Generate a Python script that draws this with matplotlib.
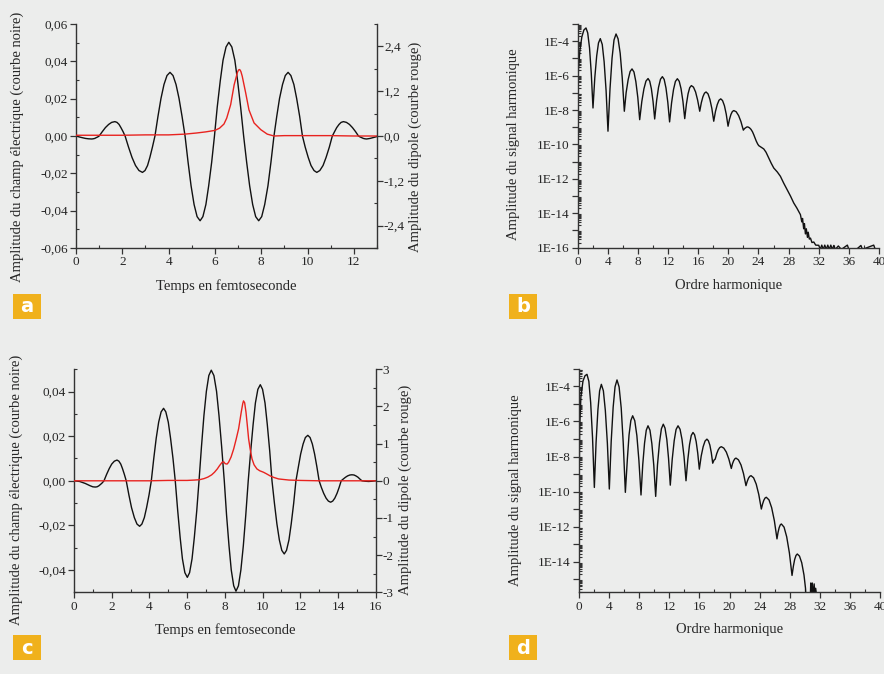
import numpy as np
import matplotlib
matplotlib.use("Agg")
import matplotlib.pyplot as plt
from matplotlib.ticker import FixedLocator, MultipleLocator, FuncFormatter, LogLocator, NullFormatter
from matplotlib.patches import Rectangle

# ---- panel a : field (black, left axis) and dipole (red, right axis) vs time ----
t_a = [0.00, 0.14, 0.27, 0.41, 0.54, 0.68, 0.74, 0.81, 0.87, 0.94,
       1.00, 1.14, 1.27, 1.41, 1.54, 1.68, 1.77, 1.86, 1.94, 2.03,
       2.12, 2.27, 2.42, 2.57, 2.72, 2.87, 2.98, 3.09, 3.19, 3.30,
       3.41, 3.54, 3.67, 3.80, 3.93, 4.06, 4.19, 4.32, 4.45, 4.58,
       4.71, 4.84, 4.97, 5.10, 5.23, 5.36, 5.48, 5.61, 5.73, 5.86,
       5.98, 6.10, 6.23, 6.35, 6.48, 6.60, 6.73, 6.86, 6.98, 7.11,
       7.24, 7.37, 7.50, 7.63, 7.76, 7.89, 8.02, 8.15, 8.29, 8.42,
       8.55, 8.67, 8.79, 8.92, 9.04, 9.16, 9.28, 9.41, 9.53, 9.66,
       9.78, 9.90, 10.03, 10.15, 10.28, 10.40, 10.53, 10.67, 10.80, 10.94,
       11.07, 11.17, 11.26, 11.36, 11.45, 11.55, 11.68, 11.81, 11.94, 12.07,
       12.20, 12.27, 12.34, 12.41, 12.48, 12.55, 12.70, 12.85, 13.00]
field_a = [0.0000, -0.0005, -0.0009, -0.0013, -0.0015, -0.0016, -0.0015, -0.0013, -0.0009, -0.0005,
           0.0000, 0.0024, 0.0045, 0.0062, 0.0073, 0.0077, 0.0073, 0.0062, 0.0045, 0.0024,
           0.0000, -0.0060, -0.0115, -0.0158, -0.0185, -0.0195, -0.0185, -0.0158, -0.0115, -0.0060,
           0.0000, 0.0105, 0.0201, 0.0276, 0.0324, 0.0341, 0.0324, 0.0276, 0.0201, 0.0105,
           0.0000, -0.0140, -0.0267, -0.0367, -0.0432, -0.0454, -0.0432, -0.0367, -0.0267, -0.0140,
           0.0000, 0.0155, 0.0295, 0.0406, 0.0477, 0.0502, 0.0477, 0.0406, 0.0295, 0.0155,
           0.0000, -0.0140, -0.0267, -0.0367, -0.0432, -0.0454, -0.0432, -0.0367, -0.0267, -0.0140,
           0.0000, 0.0105, 0.0201, 0.0276, 0.0324, 0.0341, 0.0324, 0.0276, 0.0201, 0.0105,
           0.0000, -0.0060, -0.0115, -0.0158, -0.0185, -0.0195, -0.0185, -0.0158, -0.0115, -0.0060,
           0.0000, 0.0024, 0.0045, 0.0062, 0.0073, 0.0077, 0.0073, 0.0062, 0.0045, 0.0024,
           0.0000, -0.0005, -0.0009, -0.0013, -0.0015, -0.0016, -0.0013, -0.0008, -0.0003]
td_a = [0.0, 1.0, 2.0, 3.0, 4.0, 4.7, 5.2, 5.6, 6.0, 6.2, 6.39, 6.51, 6.68, 6.83, 6.97, 7.02, 7.07,
        7.12, 7.18, 7.33, 7.47, 7.69, 7.98, 8.26, 8.55, 9.0, 10.0, 11.0, 12.0, 13.0]
dipole_a = [0.02, 0.02, 0.02, 0.03, 0.03, 0.05, 0.08, 0.11, 0.15, 0.21, 0.32, 0.48, 0.84, 1.37, 1.70, 1.77, 1.78,
            1.73, 1.60, 1.15, 0.70, 0.35, 0.17, 0.05, 0.0, 0.01, 0.01, 0.01, 0.0, 0.0]

# ---- panel c : field (black, left axis) and dipole (red, right axis) vs time ----
t_c = [0.00, 0.30, 0.60, 0.85, 1.00, 1.13, 1.22, 1.31, 1.41, 1.50,
       1.59, 1.73, 1.87, 2.00, 2.14, 2.28, 2.38, 2.48, 2.57, 2.67,
       2.77, 2.91, 3.05, 3.20, 3.34, 3.48, 3.60, 3.73, 3.85, 3.98,
       4.10, 4.23, 4.36, 4.49, 4.62, 4.75, 4.87, 5.00, 5.12, 5.25,
       5.37, 5.50, 5.63, 5.75, 5.88, 6.01, 6.13, 6.26, 6.38, 6.51,
       6.63, 6.76, 6.89, 7.02, 7.15, 7.28, 7.42, 7.56, 7.69, 7.83,
       7.97, 8.09, 8.22, 8.34, 8.47, 8.59, 8.72, 8.85, 8.98, 9.11,
       9.24, 9.37, 9.50, 9.62, 9.75, 9.88, 10.00, 10.13, 10.25, 10.38,
       10.50, 10.63, 10.76, 10.89, 11.02, 11.15, 11.27, 11.40, 11.52, 11.65,
       11.77, 11.90, 12.02, 12.15, 12.27, 12.40, 12.52, 12.64, 12.76, 12.88,
       13.00, 13.12, 13.24, 13.37, 13.49, 13.61, 13.72, 13.83, 13.95, 14.06,
       14.17, 14.28, 14.40, 14.51, 14.63, 14.74, 14.85, 14.95, 15.06, 15.16,
       15.27, 15.45, 15.62, 15.80, 16.00]
field_c = [0.0000, -0.0003, -0.0012, -0.0022, -0.0027, -0.0028, -0.0027, -0.0023, -0.0016, -0.0009,
           0.0000, 0.0029, 0.0055, 0.0075, 0.0088, 0.0093, 0.0088, 0.0075, 0.0055, 0.0029,
           0.0000, -0.0063, -0.0120, -0.0165, -0.0194, -0.0204, -0.0194, -0.0165, -0.0120, -0.0063,
           0.0000, 0.0100, 0.0191, 0.0263, 0.0309, 0.0325, 0.0309, 0.0263, 0.0191, 0.0100,
           0.0000, -0.0134, -0.0255, -0.0350, -0.0412, -0.0433, -0.0412, -0.0350, -0.0255, -0.0134,
           0.0000, 0.0153, 0.0292, 0.0401, 0.0472, 0.0496, 0.0472, 0.0401, 0.0292, 0.0153,
           0.0000, -0.0153, -0.0291, -0.0400, -0.0471, -0.0495, -0.0471, -0.0400, -0.0291, -0.0153,
           0.0000, 0.0133, 0.0253, 0.0349, 0.0410, 0.0431, 0.0410, 0.0349, 0.0253, 0.0133,
           0.0000, -0.0101, -0.0193, -0.0265, -0.0312, -0.0328, -0.0312, -0.0265, -0.0193, -0.0101,
           0.0000, 0.0063, 0.0120, 0.0165, 0.0194, 0.0204, 0.0194, 0.0165, 0.0120, 0.0063,
           0.0000, -0.0030, -0.0056, -0.0078, -0.0091, -0.0096, -0.0091, -0.0078, -0.0056, -0.0030,
           0.0000, 0.0008, 0.0016, 0.0022, 0.0026, 0.0027, 0.0026, 0.0022, 0.0016, 0.0008,
           0.0000, -0.0002, -0.0003, -0.0002, 0.0000]
td_c = [0.0, 2.0, 4.0, 5.0, 6.0, 6.4, 6.66, 6.9, 7.1, 7.3, 7.45, 7.6, 7.72, 7.86, 7.94, 8.02,
        8.12, 8.2, 8.33, 8.47, 8.6, 8.73, 8.87, 8.95, 8.99, 9.05, 9.12, 9.19, 9.26, 9.35, 9.44,
        9.55, 9.70, 9.85, 10.05, 10.2, 10.41, 10.6, 10.85, 11.4, 12.0, 13.0, 14.0, 15.0, 16.0]
dipole_c = [0.0, 0.0, 0.0, 0.01, 0.01, 0.02, 0.03, 0.06, 0.10, 0.16, 0.23, 0.32, 0.41, 0.50, 0.51, 0.46,
            0.45, 0.50, 0.64, 0.86, 1.12, 1.40, 1.85, 2.08, 2.15, 2.10, 1.85, 1.50, 1.13, 0.83, 0.59,
            0.43, 0.32, 0.27, 0.23, 0.19, 0.13, 0.09, 0.05, 0.02, 0.01, 0.0, 0.0, 0.0, 0.0]

# ---- panel b : harmonic spectrum, amplitude read as log10 (decades) ----
order_b = [0.00, 0.10, 0.30, 0.55, 0.82, 1.10, 1.33, 1.57, 1.80, 2.03,
           2.27, 2.52, 2.76, 3.00, 3.26, 3.51, 3.77, 4.02,
           4.29, 4.56, 4.82, 5.09, 5.36, 5.64, 5.91, 6.19,
           6.43, 6.70, 6.96, 7.21, 7.47, 7.72, 7.98, 8.23,
           8.51, 8.79, 9.06, 9.34, 9.56, 9.78, 10.00, 10.22,
           10.48, 10.73, 10.99, 11.24, 11.48, 11.72, 11.96, 12.20,
           12.46, 12.72, 12.97, 13.23, 13.48, 13.72, 13.97, 14.21,
           14.43, 14.65, 14.87, 15.09, 15.37, 15.65, 15.92, 16.20,
           16.41, 16.62, 16.83, 17.04, 17.30, 17.55, 17.81, 18.06,
           18.29, 18.53, 18.76, 18.99, 19.23, 19.48, 19.72, 19.96,
           20.15, 20.34, 20.53, 20.72, 21.04, 21.36, 21.67, 21.99,
           22.14, 22.29, 22.43, 22.58, 22.80, 23.00, 23.20, 23.37, 23.55, 23.70, 23.90, 24.04,
           24.40, 24.70, 25.00, 25.36, 25.70, 26.03, 26.50, 26.91, 27.35, 27.80, 28.25, 28.68, 29.10, 29.57,
           29.75, 29.85, 30.00, 30.10, 30.23, 30.35, 30.50, 30.60, 30.75, 30.90, 31.10, 31.34, 31.60, 32.00,
           32.20, 32.40, 32.60, 32.80, 33.00, 33.20, 33.40, 33.60, 33.80, 34.00, 34.20, 34.60, 35.00, 35.80,
           36.00, 37.00, 37.60, 37.80, 39.30, 39.50, 40.00]
logamp_b = [-7.20, -5.60, -4.50, -3.75, -3.35, -3.23, -3.52, -4.39, -5.85, -7.88,
            -6.12, -4.86, -4.10, -3.85, -4.19, -5.20, -6.88, -9.23,
            -6.76, -4.99, -3.93, -3.58, -3.86, -4.70, -6.11, -8.07,
            -6.99, -6.23, -5.76, -5.61, -5.79, -6.35, -7.27, -8.56,
            -7.51, -6.77, -6.32, -6.17, -6.32, -6.76, -7.49, -8.52,
            -7.44, -6.68, -6.21, -6.06, -6.22, -6.72, -7.54, -8.69,
            -7.59, -6.81, -6.34, -6.18, -6.33, -6.76, -7.49, -8.50,
            -7.66, -7.06, -6.70, -6.58, -6.67, -6.95, -7.42, -8.07,
            -7.58, -7.23, -7.02, -6.95, -7.06, -7.38, -7.91, -8.65,
            -8.08, -7.68, -7.43, -7.35, -7.45, -7.75, -8.24, -8.94,
            -8.54, -8.26, -8.09, -8.03, -8.10, -8.32, -8.67, -9.17,
            -9.08, -9.03, -8.99, -8.98, -9.03, -9.12, -9.26, -9.43, -9.63, -9.80, -9.98, -10.07,
            -10.17, -10.26, -10.45, -10.78, -11.10, -11.37, -11.60, -11.85, -12.25, -12.63, -13.00, -13.40, -13.70, -14.08,
            -14.50, -14.30, -14.90, -14.60, -15.20, -14.90, -15.40, -15.10, -15.50, -15.44, -15.70, -15.67, -15.85, -15.86,
            -16.10, -15.85, -16.10, -15.85, -16.10, -15.85, -16.10, -15.85, -16.10, -15.87, -16.10, -15.90, -16.10, -15.85,
            -16.10, -16.10, -15.87, -16.10, -15.85, -16.10, -16.10]

# ---- panel d : harmonic spectrum, amplitude read as log10 (decades) ----
order_d = [0.00, 0.08, 0.25, 0.53, 0.80, 1.06, 1.31, 1.55, 1.80, 2.04,
           2.27, 2.51, 2.74, 2.97, 3.24, 3.50, 3.77, 4.03,
           4.28, 4.54, 4.79, 5.05, 5.33, 5.61, 5.88, 6.16,
           6.43, 6.65, 6.89, 7.13, 7.41, 7.69, 7.96, 8.24,
           8.47, 8.71, 8.94, 9.17, 9.43, 9.68, 9.94, 10.19,
           10.43, 10.70, 10.95, 11.20, 11.43, 11.67, 11.90, 12.13,
           12.39, 12.65, 12.90, 13.16, 13.43, 13.69, 13.96, 14.22,
           14.46, 14.69, 14.92, 15.15, 15.36, 15.57, 15.78, 15.99,
           16.24, 16.50, 16.75, 17.00, 17.19, 17.39, 17.58, 17.77,
           17.95, 18.10, 18.30, 18.50, 18.70, 18.91, 19.24, 19.58, 19.91, 20.24,
           20.39, 20.55, 20.71, 20.86, 21.19, 21.53, 21.86, 22.19,
           22.36, 22.53, 22.69, 22.86, 23.20, 23.55, 23.89, 24.23,
           24.40, 24.56, 24.73, 24.89, 25.25, 25.60, 25.96, 26.31,
           26.45, 26.60, 26.75, 26.89, 27.25, 27.60, 27.96, 28.31,
           28.49, 28.66, 28.84, 29.01, 29.30, 29.60, 29.90, 30.10, 30.20,
           30.70, 30.80, 30.90, 31.00, 31.10, 31.25, 31.35, 31.45, 31.60, 32.00, 40.00]
logamp_d = [-11.30, -6.50, -4.60, -3.70, -3.40, -3.32, -3.72, -4.93, -6.94, -9.76,
            -7.19, -5.36, -4.26, -3.89, -4.26, -5.38, -7.24, -9.85,
            -7.13, -5.19, -4.03, -3.64, -4.04, -5.24, -7.24, -10.04,
            -8.13, -6.77, -5.95, -5.68, -5.96, -6.81, -8.22, -10.19,
            -8.47, -7.24, -6.50, -6.25, -6.50, -7.26, -8.51, -10.27,
            -8.47, -7.19, -6.42, -6.16, -6.38, -7.03, -8.11, -9.63,
            -8.15, -7.10, -6.46, -6.25, -6.45, -7.03, -8.01, -9.38,
            -8.18, -7.32, -6.80, -6.63, -6.76, -7.15, -7.81, -8.72,
            -7.97, -7.44, -7.12, -7.01, -7.10, -7.35, -7.78, -8.38,
            -8.20, -8.15, -7.84, -7.62, -7.49, -7.44, -7.52, -7.75, -8.14, -8.68,
            -8.42, -8.24, -8.13, -8.09, -8.19, -8.48, -8.97, -9.66,
            -9.41, -9.23, -9.13, -9.09, -9.21, -9.57, -10.16, -10.99,
            -10.70, -10.49, -10.36, -10.32, -10.47, -10.91, -11.65, -12.69,
            -12.32, -12.05, -11.89, -11.84, -12.02, -12.57, -13.49, -14.77,
            -14.24, -13.86, -13.63, -13.55, -13.67, -14.05, -14.75, -15.50, -16.50,
            -16.50, -15.20, -16.00, -15.20, -16.00, -15.25, -16.00, -15.50, -16.00, -16.50, -16.50]

BG = "#ecedec"
TXT = "#262626"
RED = "#e8231f"
ORANGE = "#f0b11c"

plt.rcParams["font.family"] = ["Liberation Serif", "DejaVu Serif"]
plt.rcParams["axes.unicode_minus"] = False

fig = plt.figure(figsize=(8.84, 6.74), dpi=100, facecolor=BG)
W, H = 884.0, 674.0


def box(l, r, t, b):
    return [l / W, 1 - b / H, (r - l) / W, (b - t) / H]


def comma(fmt):
    def f(v, pos):
        if abs(v) < 1e-12:
            v = 0.0
        return format(v, fmt).replace(".", ",")
    return FuncFormatter(f)


def style(ax, sides, pad=2):
    ax.set_facecolor("none")
    for s in ["left", "right", "top", "bottom"]:
        ax.spines[s].set_visible(s in sides)
        ax.spines[s].set_color("#333333")
        ax.spines[s].set_linewidth(1.0)
    ax.tick_params(which="major", direction="out", length=4, width=0.9, colors="#333333",
                   labelcolor=TXT, labelsize=9.5, pad=pad)
    ax.tick_params(which="minor", direction="in", length=2.5, width=0.8, colors="#333333")


# lab = (xlabel top y, left ylabel right-edge x, right ylabel left-edge x, ylabel centre y), axes coords
def time_panel(rect, t, field, td, dip, xmax, ylim, ymaj, yfmt, rmaj, rmin, rfmt, lab):
    ax = fig.add_axes(rect)
    style(ax, ["left", "bottom"])
    ax.plot(t, field, color="#111111", lw=1.0)
    ax.set_xlim(0, xmax)
    ax.set_ylim(*ylim)
    ax.xaxis.set_major_locator(MultipleLocator(2))
    ax.xaxis.set_minor_locator(MultipleLocator(1))
    ax.yaxis.set_major_locator(FixedLocator(ymaj))
    ax.yaxis.set_minor_locator(MultipleLocator(0.01))
    ax.yaxis.set_major_formatter(comma(yfmt))
    ax.set_xlabel("Temps en femtoseconde", fontsize=10.5, color=TXT)
    ax.set_ylabel("Amplitude du champ électrique (courbe noire)", fontsize=10.5, color=TXT)
    ax.xaxis.set_label_coords(0.5, lab[0])
    ax.yaxis.set_label_coords(lab[1], lab[3])
    ax2 = ax.twinx()
    style(ax2, ["right"], pad=1)
    ax2.plot(td, dip, color=RED, lw=1.0)
    ax2.set_ylim(-3, 3)
    ax2.yaxis.set_major_locator(FixedLocator(rmaj))
    ax2.yaxis.set_minor_locator(MultipleLocator(rmin))
    ax2.yaxis.set_major_formatter(comma(rfmt))
    ax2.set_ylabel("Amplitude du dipole (courbe rouge)", fontsize=10.5, color=TXT)
    ax2.yaxis.set_label_coords(lab[2], lab[3])
    return ax


def spectrum_panel(rect, order, logamp, ylim, lab):
    ax = fig.add_axes(rect)
    style(ax, ["left", "bottom"])
    ax.plot(order, np.power(10.0, logamp), color="#111111", lw=1.0)
    ax.set_yscale("log")
    ax.set_xlim(0, 40)
    ax.set_ylim(*ylim)
    ax.xaxis.set_major_locator(MultipleLocator(4))
    ax.xaxis.set_minor_locator(MultipleLocator(2))
    ax.yaxis.set_major_locator(LogLocator(base=10, numticks=40))
    ax.yaxis.set_minor_locator(LogLocator(base=10, subs=np.arange(2, 10), numticks=200))
    ax.yaxis.set_minor_formatter(NullFormatter())

    def dec(v, pos):
        e = int(round(np.log10(v)))
        return "1E%d" % e if e % 2 == 0 else ""
    ax.yaxis.set_major_formatter(FuncFormatter(dec))
    ax.set_xlabel("Ordre harmonique", fontsize=10.5, color=TXT)
    ax.set_ylabel("Amplitude du signal harmonique", fontsize=10.5, color=TXT)
    ax.xaxis.set_label_coords(0.5, lab[0])
    ax.yaxis.set_label_coords(lab[1], lab[2])
    return ax


time_panel(box(76, 377, 24, 248), t_a, field_a, td_a, dipole_a, 13, (-0.06, 0.06),
           [-0.06, -0.04, -0.02, 0.0, 0.02, 0.04, 0.06], ".2f",
           [-2.4, -1.2, 0.0, 1.2, 2.4], 0.6, ".1f", (-0.138, -0.173, 1.106, 0.451))
time_panel(box(74, 375.7, 369.3, 592.3), t_c, field_c, td_c, dipole_c, 16, (-0.05, 0.05),
           [-0.04, -0.02, 0.0, 0.02, 0.04], ".2f",
           [-3, -2, -1, 0, 1, 2, 3], 0.5, ".0f", (-0.138, -0.169, 1.074, 0.459))
spectrum_panel(box(577.7, 879, 24, 247.7), order_b, logamp_b, (1e-16, 1e-3), (-0.14, -0.191, 0.464))
spectrum_panel(box(579, 880, 368.7, 592.3), order_d, logamp_d, (1.86e-16, 1e-3), (-0.137, -0.189, 0.457))

# orange panel tags
for letter, (x0, y0) in zip("abcd", [(13, 294), (509, 294), (13, 635), (509, 635)]):
    fig.patches.append(Rectangle((x0 / W, 1 - (y0 + 25) / H), 28 / W, 25 / H,
                                 transform=fig.transFigure, facecolor=ORANGE, edgecolor="none"))
    fig.text((x0 + 14) / W, 1 - (y0 + 13) / H, letter, color="white", fontsize=14,
             fontweight="bold", family="DejaVu Sans", ha="center", va="center")

fig.savefig("out.png", dpi=100, facecolor=BG)
